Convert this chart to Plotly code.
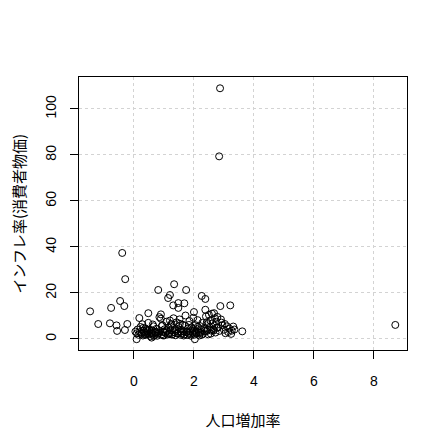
import plotly.graph_objects as go

# Population growth rate (x) and inflation rate (y)
pop_growth = [
    2.87, 2.84, 8.71, -0.39, -0.29, -1.46, -1.19, -0.76, -0.80, -0.46, -0.32, -0.58, -0.56, -0.22, -0.30,
    0.81, 1.34, 1.74, 1.14, 1.20, 1.31, 1.48, 1.68, 1.48, 2.26, 2.38, 2.00, 2.38, 2.88, 3.21,
    3.61, 3.31, 3.26, 3.14, 3.03, 2.67, 0.48, 0.18, 0.90, 0.09, 2.03, 0.59,
    0.05, 0.10, 0.12, 0.15, 0.20, 0.22, 0.25, 0.28, 0.30, 0.33, 0.35, 0.38, 0.40, 0.42, 0.45, 0.48,
    0.50, 0.52, 0.55, 0.58, 0.60, 0.62, 0.65, 0.68, 0.70, 0.72, 0.75, 0.78, 0.80, 0.85, 0.88, 0.90,
    0.92, 0.95, 0.98, 1.00, 1.02, 1.05, 1.08, 1.10, 1.12, 1.15, 1.18, 1.20, 1.22, 1.25, 1.28, 1.30,
    1.32, 1.35, 1.38, 1.40, 1.42, 1.45, 1.48, 1.50, 1.52, 1.55, 1.58, 1.60, 1.62, 1.65, 1.68, 1.70,
    1.72, 1.75, 1.78, 1.80, 1.82, 1.85, 1.88, 1.90, 1.92, 1.95, 1.98, 2.00, 2.02, 2.05, 2.08, 2.10,
    2.12, 2.15, 2.18, 2.20, 2.22, 2.25, 2.28, 2.30, 2.35, 2.40, 2.42, 2.45, 2.48, 2.50, 2.52, 2.55,
    2.58, 2.60, 2.62, 2.65, 2.70, 2.72, 2.75, 2.80, 2.85, 2.90, 2.95, 3.00, 3.05, 3.10,
    0.26, 0.36, 0.44, 0.57, 0.66, 0.74, 0.83, 0.96, 1.04, 1.16, 1.27, 1.36, 1.46, 1.57, 1.66, 1.76,
    1.86, 1.96, 2.06, 2.16, 2.26, 2.36, 2.46, 2.56, 2.66, 2.76, 0.31, 0.63, 0.93, 1.23, 1.53, 1.83,
    2.13, 2.43, 2.68, 2.78, 2.92, 3.18, 3.24, 3.35,
]
inflation = [
    109.0, 79.4, 6.1, 37.4, 26.0, 12.0, 6.5, 13.5, 6.8, 16.5, 14.3, 5.9, 3.5, 6.5, 3.9,
    21.3, 23.8, 21.3, 17.8, 19.1, 14.6, 15.6, 15.5, 13.5, 18.7, 17.4, 11.7, 12.7, 14.3, 14.6,
    3.3, 5.4, 3.6, 3.0, 6.5, 11.2, 11.2, 9.1, 10.7, -0.1, -0.1, 0.6,
    3.2, 2.5, 4.1, 1.8, 3.0, 5.2, 2.2, 6.4, 1.5, 3.6, 2.8, 4.6, 1.9, 2.5, 3.3, 7.0,
    2.0, 4.0, 1.2, 2.9, 3.8, 2.3, 5.5, 1.7, 3.1, 2.6, 4.4, 1.4, 2.2, 9.5, 3.5, 8.8,
    2.0, 6.0, 3.0, 1.5, 4.2, 2.7, 7.5, 3.3, 1.9, 5.0, 2.4, 8.0, 3.8, 6.5, 2.1, 4.7,
    9.0, 2.9, 1.6, 3.6, 7.2, 2.3, 5.3, 3.1, 8.5, 1.8, 4.0, 2.6, 6.2, 3.4, 2.0, 5.8,
    10.2, 3.0, 1.7, 4.5, 2.5, 7.8, 3.2, 1.4, 5.0, 2.8, 9.2, 3.7, 1.9, 6.0, 2.4, 4.3,
    8.2, 3.0, 1.5, 5.6, 2.7, 3.9, 7.0, 2.2, 4.8, 9.8, 3.4, 6.5, 2.0, 10.5, 5.2, 8.0,
    3.6, 11.0, 6.8, 4.2, 9.0, 2.8, 7.5, 5.0, 3.5, 8.5, 6.0, 4.0, 2.5, 5.5,
    2.6, 1.8, 3.9, 2.4, 1.3, 3.0, 2.7, 1.6, 3.4, 2.2, 1.9, 4.1, 2.5, 3.2, 1.5, 2.9,
    2.1, 4.4, 3.1, 2.6, 1.8, 3.5, 4.0, 2.3, 3.7, 4.9, 4.8, 6.3, 5.6, 5.9, 6.6, 6.1,
    5.3, 7.3, 5.8, 9.6, 7.1, 4.5, 2.2, 4.1,
]

x_ticks = [0, 2, 4, 6, 8]
y_ticks = [0, 20, 40, 60, 80, 100]
x_title = "人口増加率"
y_title = "インフレ率(消費者物価)"

fig = go.Figure(
    go.Scatter(
        x=pop_growth, y=inflation, mode="markers",
        marker=dict(symbol="circle-open", size=7, color="black", line=dict(width=1, color="black")),
        showlegend=False,
    )
)

axis_common = dict(
    showline=True, linecolor="black", linewidth=1, mirror=True,
    ticks="outside", ticklen=8, tickcolor="black", tickwidth=1,
    showgrid=True, gridcolor="#d3d3d3", griddash="dot", gridwidth=1,
    zeroline=False, automargin=False,
    tickfont=dict(family="Liberation Sans, Arial, sans-serif", size=14, color="black"),
)

# page body adds an 8px offset, margins compensate for it
fig.update_layout(
    width=448, height=447,
    paper_bgcolor="white", plot_bgcolor="white",
    margin=dict(l=71, r=49, t=69, b=105),
    font=dict(family="Noto Sans CJK JP, Liberation Sans, sans-serif", color="black"),
    xaxis=dict(
        range=[-1.83, 9.1], tickvals=x_ticks, ticktext=[str(v) for v in x_ticks],
        ticklabelstandoff=10,
        title=dict(text=x_title, font=dict(size=15, family="Noto Sans CJK JP"), standoff=27),
        **axis_common,
    ),
    yaxis=dict(
        range=[-4.8, 113.9], tickvals=y_ticks, ticktext=[str(v) for v in y_ticks],
        tickangle=-90, ticklabelstandoff=8,
        **axis_common,
    ),
    annotations=[
        dict(
            text=y_title, textangle=-90, showarrow=False,
            xref="paper", yref="paper", x=0, y=0.5,
            xanchor="center", yanchor="middle", xshift=-61,
            font=dict(size=15, family="Noto Sans CJK JP", color="black"),
        )
    ],
)

fig.write_html("out.html")
